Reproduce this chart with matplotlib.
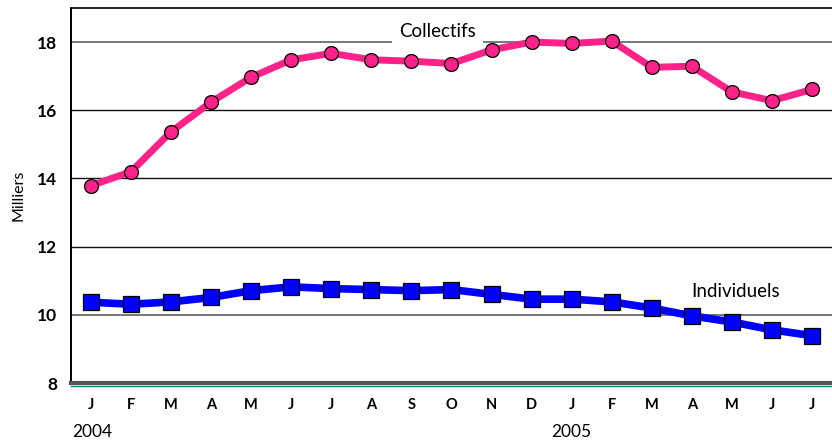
import matplotlib
matplotlib.use("Agg")
import matplotlib.pyplot as plt
from matplotlib.lines import Line2D

months = ["J", "F", "M", "A", "M", "J", "J", "A", "S", "O", "N", "D",
          "J", "F", "M", "A", "M", "J", "J"]
collectifs = [13.79, 14.20, 15.37, 16.24, 16.97, 17.48, 17.67, 17.48, 17.44, 17.37,
              17.77, 18.00, 17.96, 18.03, 17.26, 17.29, 16.54, 16.28, 16.61]
individuels = [10.37, 10.31, 10.38, 10.51, 10.71, 10.82, 10.77, 10.74, 10.71, 10.74,
               10.60, 10.46, 10.46, 10.38, 10.20, 9.97, 9.79, 9.56, 9.39]
years = ["2004", "2005"]
yticks = [8, 10, 12, 14, 16, 18]

plt.rcParams["font.family"] = ["Lato", "DejaVu Sans"]

fig = plt.figure(figsize=(8.32, 4.43), dpi=100)
ax = fig.add_axes([0.0853, 0.1354, 0.9147, 0.8466])

x = list(range(len(months)))
ax.set_xlim(-0.5, len(months) - 0.5)
ax.set_ylim(8, 19)

# horizontal grid
for v in yticks[1:]:
    c = "#777777" if v in (10, 18) else "#111111"
    lw = 1.4 if v in (10, 18) else 1.0
    ax.axhline(v, color=c, lw=lw, zorder=1)

ax.plot(x, collectifs, color="#FF2288", lw=5, marker="o", markersize=10,
        markerfacecolor="#FF2288", markeredgecolor="black", markeredgewidth=0.9,
        zorder=3, solid_capstyle="round")
ax.plot(x, individuels, color="#0000FF", lw=5.5, marker="s", markersize=11,
        markerfacecolor="#0000FF", markeredgecolor="black", markeredgewidth=0.9,
        zorder=3)

ax.text(8.65, 18.32, "Collectifs", ha="center", va="center", fontsize=13.5,
        bbox=dict(facecolor="white", edgecolor="none", pad=5), zorder=2)
ax.text(14.98, 10.68, "Individuels", ha="left", va="center", fontsize=13.5, zorder=4)

ax.set_yticks(yticks)
ax.set_yticklabels([str(v) for v in yticks], fontsize=12.5, fontweight="bold")
ax.set_xticks(x)
ax.set_xticklabels(months, fontsize=10.5, fontweight="bold")
ax.tick_params(axis="both", length=0)
ax.tick_params(axis="x", pad=10.5)
ax.tick_params(axis="y", pad=10)

ax.set_ylabel("Milliers", fontsize=11.5, labelpad=8)

ax.spines["right"].set_visible(False)
ax.spines["top"].set_linewidth(1.2)
ax.spines["left"].set_linewidth(1.4)
ax.spines["bottom"].set_color("#555555")
ax.spines["bottom"].set_linewidth(3)

# thin teal rule under the base axis
yb = 1 - 385.5 / 443
fig.add_artist(Line2D([0.0853, 1.0], [yb, yb], color="#008080", lw=1.0,
                      transform=fig.transFigure))

fig.text(72 / 832, 1 - 432 / 443, years[0], ha="left", va="center", fontsize=12.5)
fig.text(571 / 832, 1 - 432 / 443, years[1], ha="center", va="center", fontsize=12.5)

fig.savefig("out.png", dpi=100)
